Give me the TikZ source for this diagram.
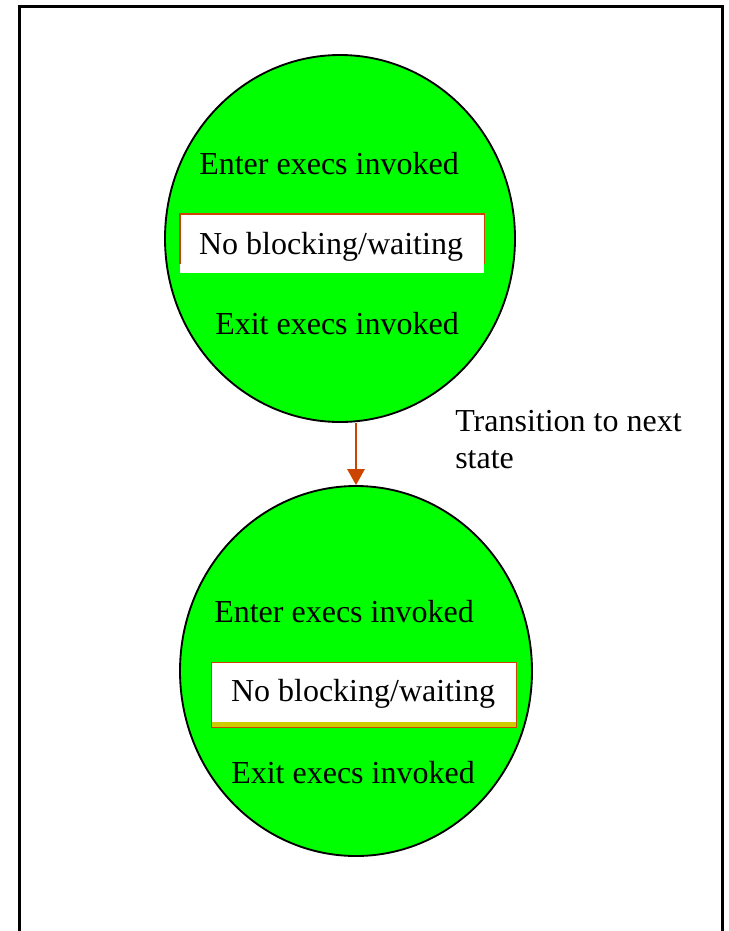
\documentclass[tikz,border=0pt]{standalone}
\usepackage{fontspec}
\setmainfont{Liberation Serif}
\usetikzlibrary{shapes.geometric,arrows.meta}
\definecolor{stategreen}{RGB}{0,255,0}
\definecolor{edgeorange}{RGB}{204,68,0}
\definecolor{bandyellow}{RGB}{204,204,0}
\tikzset{
  statering/.style={ellipse, draw=black, line width=1.4pt, fill=stategreen,
    inner sep=0pt, minimum width=#1},
  label text/.style={font=\fontsize{24}{27.75}\selectfont, inner sep=0pt, anchor=base},
  waitbox/.style={fill=white, inner sep=0pt, anchor=north west},
  flow/.style={draw=edgeorange, line width=1.5pt,
    -{Triangle[width=13pt,length=12pt]}},
}
\begin{document}
\begin{tikzpicture}[x=0.75pt,y=-0.75pt]
\useasboundingbox (0,0) rectangle (728,931);
% outer frame, its lower edge runs past the page
\begin{scope}
\clip (0,0) rectangle (728,931);
\draw[line width=1.6pt] (19.5,945) -- (19.5,6.5) -- (722.5,6.5) -- (722.5,945);
\end{scope}

% first state
\node[statering=350*0.75pt, minimum height=367*0.75pt] (e1) at (340,238.5) {};
\node[waitbox, minimum width=304*0.75pt, minimum height=59*0.75pt] (w1) at (180,214) {};
\draw[edgeorange, line width=0.8pt] ([yshift=7pt]w1.south west) -- (w1.north west)
  -- (w1.north east) -- ([yshift=7pt]w1.south east);
\node[label text] (en1) at (329,174) {Enter execs invoked};
\node[label text] (nb1) at (331,254) {No blocking/waiting};
\node[label text] (ex1) at (337,334) {Exit execs invoked};

% second state
\node[statering=352*0.75pt, minimum height=370*0.75pt] (e2) at (356,671) {};
\node[waitbox, minimum width=305*0.75pt, minimum height=65*0.75pt,
  draw=edgeorange, line width=0.8pt] (w2) at (211,662) {};
\fill[bandyellow] ([shift={(0.6pt,0.6pt)}]w2.south west) rectangle
  ([shift={(-0.6pt,4.5pt)}]w2.south east);
\node[label text] (en2) at (344,622) {Enter execs invoked};
\node[label text] (nb2) at (363,701) {No blocking/waiting};
\node[label text] (ex2) at (353,783) {Exit execs invoked};

% transition
\draw[flow] (e1.south -| e2.north) -- (e2.north);
\node[label text, anchor=base west, align=left] (tr) at (455,468)
  {Transition to next\\state};
\end{tikzpicture}
\end{document}
